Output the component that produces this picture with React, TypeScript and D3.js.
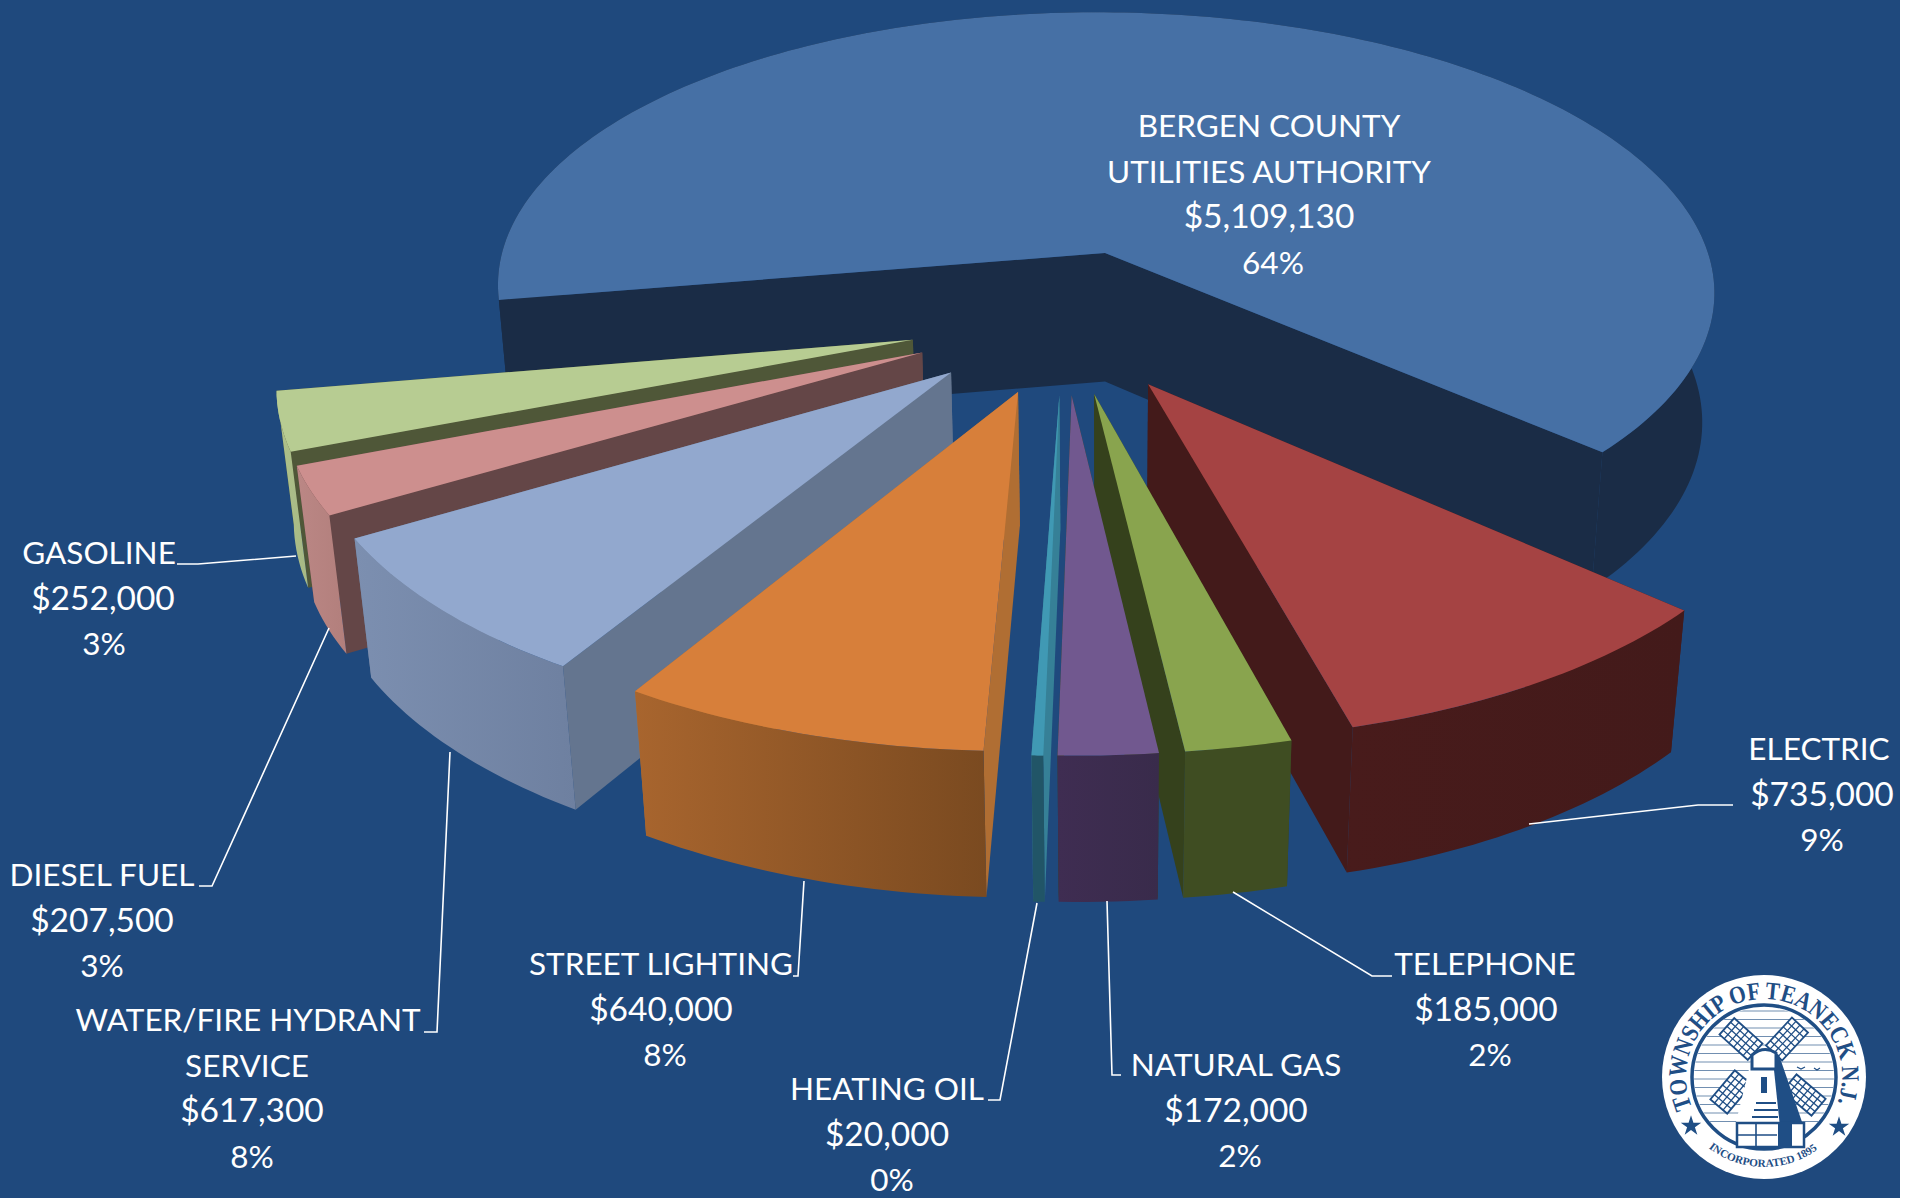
import React from "react";
import * as d3 from "d3";

const categories = ["ELECTRIC","TELEPHONE","NATURAL GAS","HEATING OIL","STREET LIGHTING","WATER/FIRE HYDRANT SERVICE","DIESEL FUEL","GASOLINE","BERGEN COUNTY UTILITIES AUTHORITY"];
const values = [735000,185000,172000,20000,640000,617300,207500,252000,5109130];
const amounts = ["$735,000","$185,000","$172,000","$20,000","$640,000","$617,300","$207,500","$252,000","$5,109,130"];
const percents = ["9%","2%","2%","0%","8%","8%","3%","3%","64%"];
const topColors = ["#A54343","#89A44E","#71588F","#4099B4","#D77F3A","#92A8CE","#CD8F8E","#B7CC92","#4670A5"];
const radialColors = ["#431A1A","#35411C","#35411C","#368097","#B06E33","#64758F","#644647","#4F5738","#1A2C46"];
const outerFrom = ["#481B1B","#3F4D22","#3F2D52","#215567","#A8652E","#7C8FB0","#BB8785","#AFC28B","#1A2C46"];
const outerTo = ["#431A1A","#3F4D22","#392B4B","#215567","#7A4A20","#6E80A0","#B27F7C","#A6B884","#1A2C46"];

type Lbl = { name: string[]; xs: number[]; y: number; leader: [number, number][] };
const layout: Lbl[] = [
  { name: ["ELECTRIC"], xs: [1819,1822,1822], y: 760, leader: [[1733,805],[1698,805],[1529,824]] },
  { name: ["TELEPHONE"], xs: [1485,1486,1490], y: 975, leader: [[1392,976],[1372,976],[1233,892]] },
  { name: ["NATURAL GAS"], xs: [1236,1236,1240], y: 1076, leader: [[1121,1075],[1112,1075],[1107,901]] },
  { name: ["HEATING OIL"], xs: [887,887,892], y: 1100, leader: [[988,1100],[1000,1100],[1037,903]] },
  { name: ["STREET LIGHTING"], xs: [661,661,665], y: 975, leader: [[793,976],[798,976],[804,881]] },
  { name: ["WATER/FIRE HYDRANT","SERVICE"], xs: [248,247,252,252], y: 1031, leader: [[424,1032],[437,1032],[450,752]] },
  { name: ["DIESEL FUEL"], xs: [102,102,102], y: 886, leader: [[199,886],[212,886],[329,628]] },
  { name: ["GASOLINE"], xs: [99,103,104], y: 564, leader: [[177,564],[198,564],[296,556]] },
  { name: ["BERGEN COUNTY","UTILITIES AUTHORITY"], xs: [1269,1269,1269,1273], y: 137, leader: [] },
];

const BG = "#1F497D";
const W = 1913, H = 1198, IMG_W = 1900;
// Perspective projection of the pie's plane (u right, v towards viewer, w down)
const cx = 1105, cy = 253, a = 603, b = 272, c = 131, k = 0.13, m = 0.02, shear = 9;
const explode = 0.25, startDeg = 42;
const project = (u: number, v: number, w: number): [number, number] => {
  const D = 1 - k * v + m * w;
  return [cx + (a * u + shear * v) / D, cy + (b * v + c * w) / D];
};

const pieGen = d3.pie<number>().sort(null);
const arcs = pieGen(values);
const start = (startDeg * Math.PI) / 180;
const bigMid = start + (arcs[8].startAngle + arcs[8].endAngle) / 2;
const line = d3.line<[number, number]>();

const slices = arcs.map((d, i) => {
  const t0 = start + d.startAngle, t1 = start + d.endAngle, mid = (t0 + t1) / 2;
  const ox = explode * (Math.cos(mid) - Math.cos(bigMid));
  const oy = explode * (Math.sin(mid) - Math.sin(bigMid));
  const n = Math.max(4, Math.ceil((t1 - t0) / 0.02));
  const ts = d3.range(n + 1).map((j) => t0 + ((t1 - t0) * j) / n);
  const rim = (w: number) => ts.map((t) => project(ox + Math.cos(t), oy + Math.sin(t), w));
  const apex = (w: number) => project(ox, oy, w);
  const top = line([apex(0), ...rim(0)]) + "Z";
  const outer = line([...rim(0), ...rim(1).reverse()]) + "Z";
  const wall = (t: number) =>
    line([apex(0), project(ox + Math.cos(t), oy + Math.sin(t), 0), project(ox + Math.cos(t), oy + Math.sin(t), 1), apex(1)]) + "Z";
  const radials = [{ t: t0, p: wall(t0) }, { t: t1, p: wall(t1) }].sort((p, q) => Math.sin(p.t) - Math.sin(q.t));
  return { i, mid, top, outer, radials };
});
const drawOrder = d3.sort(slices, (s) => Math.sin(s.mid));

const LOGO_BLUE = "#1F4E85";
const Sail = ({ x, y, r }: { x: number; y: number; r: number }) => {
  const len = 38, wid = 22;
  return (
    <g transform={`translate(${x},${y}) rotate(${r})`} stroke={LOGO_BLUE} strokeWidth={1.3} fill="#fff">
      <rect x={-wid / 2} y={-len / 2} width={wid} height={len} strokeWidth={1.8} />
      {d3.range(1, 4).map((q) => <line key={q} x1={-wid / 2 + (q * wid) / 4} x2={-wid / 2 + (q * wid) / 4} y1={-len / 2} y2={len / 2} />)}
      {d3.range(1, 6).map((q) => <line key={q} y1={-len / 2 + (q * len) / 6} y2={-len / 2 + (q * len) / 6} x1={-wid / 2} x2={wid / 2} />)}
    </g>
  );
};

const Logo = () => {
  const R = 78, r2 = 90;
  const pt = (deg: number, rr: number) => [rr * Math.sin((deg * Math.PI) / 180), -rr * Math.cos((deg * Math.PI) / 180)];
  const [sx, sy] = pt(-113, R), [ex, ey] = pt(113, R);
  const [lx, ly] = pt(-142, r2), [rx, ry] = pt(142, r2);
  const star = d3.symbol(d3.symbolStar, 130)() as string;
  return (
    <g transform="translate(1764,1077)">
      <defs>
        <path id="logoTop" d={`M${sx},${sy} A${R},${R} 0 1 1 ${ex},${ey}`} />
        <path id="logoBot" d={`M${lx},${ly} A${r2},${r2} 0 0 0 ${rx},${ry}`} />
        <clipPath id="logoClip"><circle r={70} /></clipPath>
      </defs>
      <circle r={102} fill="#fff" />
      <circle r={72} fill="#fff" stroke={LOGO_BLUE} strokeWidth={3.5} />
      <g clipPath="url(#logoClip)" stroke={LOGO_BLUE} strokeWidth={0.9} opacity={0.7}>
        {d3.range(-66, 48, 8.5).map((y) => <line key={y} x1={-72} x2={72} y1={y} y2={y} />)}
      </g>
      <text fontFamily="'Liberation Serif'" fontWeight="bold" fontSize={25} fill={LOGO_BLUE}>
        <textPath href="#logoTop" textLength={302} lengthAdjust="spacingAndGlyphs">TOWNSHIP OF TEANECK N.J.</textPath>
      </text>
      <text fontFamily="'Liberation Serif'" fontWeight="bold" fontSize={11} fill={LOGO_BLUE}>
        <textPath href="#logoBot" textLength={117} lengthAdjust="spacingAndGlyphs">INCORPORATED 1895</textPath>
      </text>
      <path d={star} transform="translate(-73,49)" fill={LOGO_BLUE} />
      <path d={star} transform="translate(75,50)" fill={LOGO_BLUE} />
      <Sail x={-23} y={-38} r={-48} />
      <Sail x={23} y={-38} r={43} />
      <Sail x={-33} y={15} r={40} />
      <Sail x={40} y={18} r={-50} />
      <polygon points="-12,-20 14,-22 36,45 -28,45" fill="#fff" />
      <polygon points="8,-26 15,-22 38,45 16,50" fill={LOGO_BLUE} />
      <path d="M-12,-22 Q0,-32 12,-24 L12,-8 L-12,-8Z" fill="#fff" stroke={LOGO_BLUE} strokeWidth={3} />
      <rect x={-3} y={0} width={6} height={16} fill={LOGO_BLUE} />
      <path d="M-8,26 h20 M-10,33 h24 M-12,40 h26" stroke={LOGO_BLUE} strokeWidth={2} />
      <rect x={-27} y={46} width={67} height={24} fill="#fff" stroke={LOGO_BLUE} strokeWidth={2.5} />
      <rect x={14} y={46} width={14} height={24} fill={LOGO_BLUE} />
      <path d="M-27,58 h40 M-8,46 v24" stroke={LOGO_BLUE} strokeWidth={1.6} />
      <path d="M33,-10 l4,2 l4,-2 M50,-9 l3,2 l3,-2" fill="none" stroke={LOGO_BLUE} strokeWidth={1.2} />
    </g>
  );
};

export default function App() {
  return (
    <svg width={W} height={H} viewBox={`0 0 ${W} ${H}`} style={{ position: "absolute", left: 0, top: 0, display: "block" }}>
      <defs>
        {slices.map((s) => (
          <linearGradient key={s.i} id={`outer${s.i}`} x1="0" x2="1" y1="0" y2="0">
            <stop offset="0" stopColor={outerFrom[s.i]} />
            <stop offset="1" stopColor={outerTo[s.i]} />
          </linearGradient>
        ))}
      </defs>
      <rect width={W} height={H} fill="#fff" />
      <rect width={IMG_W} height={H} fill={BG} />
      {drawOrder.map((s) => (
        <g key={s.i}>
          {s.radials.map((r, j) => <path key={j} d={r.p} fill={radialColors[s.i]} />)}
          <path d={s.outer} fill={`url(#outer${s.i})`} />
          <path d={s.top} fill={topColors[s.i]} />
        </g>
      ))}
      {layout.filter((l) => l.leader.length).map((l, i) => (
        <path key={i} d={line(l.leader) as string} fill="none" stroke="#fff" strokeWidth={1.6} />
      ))}
      <g fontFamily="Lato" fill="#fff" textAnchor="middle">
        {layout.map((l, i) => {
          const rows = [...l.name, amounts[i], percents[i]];
          return rows.map((t, j) => (
            <text key={`${i}-${j}`} x={l.xs[j]} y={l.y + j * 45.7} fontSize={t === amounts[i] ? 33.5 : 31.5}>{t}</text>
          ));
        })}
      </g>
      <Logo />
    </svg>
  );
}
